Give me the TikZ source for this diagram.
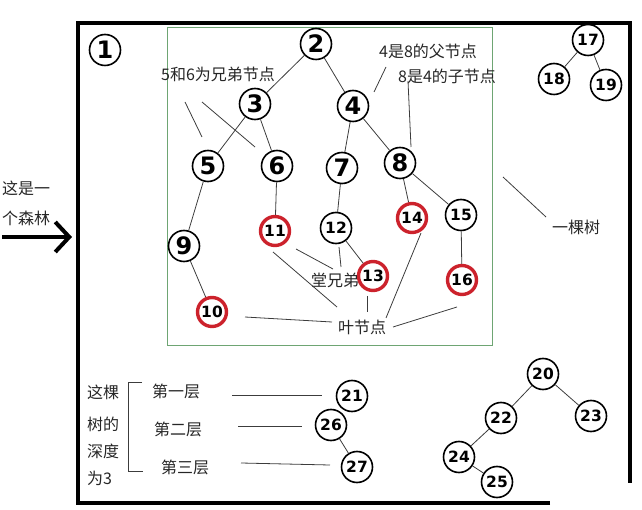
\documentclass[tikz,border=0pt]{standalone}
\usepackage{fontspec}
\setmainfont{Noto Sans CJK SC}
\newfontfamily\numfont{DejaVu Sans}
\usetikzlibrary{arrows.meta}
\definecolor{leafred}{RGB}{204,34,44}
\definecolor{boxgreen}{RGB}{110,165,115}
\definecolor{edgegray}{RGB}{60,60,60}
\begin{document}
\begin{tikzpicture}[x=1pt,y=-1pt,
 tn/.style={circle,draw=black,line width=1.6pt,minimum size=31pt,inner sep=0pt,fill=white},
 leaf/.style={tn,draw=leafred,line width=3.4pt,minimum size=29pt},
 big/.style={font=\numfont\bfseries\fontsize{24}{24}\selectfont},
 small/.style={font=\numfont\bfseries\fontsize{15.5}{15.5}\selectfont},
 edge/.style={draw=edgegray,line width=0.8pt},
 note/.style={draw=edgegray,line width=0.8pt},
 lbl/.style={font=\fontsize{16}{18}\selectfont,inner sep=0pt,text=black!85}
]
\useasboundingbox (0,0) rectangle (642,510);
% frames
\draw[line width=4pt] (550,503) -- (78,503) -- (78,23) -- (630,23) -- (630,483);
\draw[boxgreen,line width=0.8pt] (167,27) rectangle (492,345);
% forest arrow
\coordinate (arS) at (2,237);
\coordinate (arE) at (72,237);
\draw[line width=4pt,-{Straight Barb[length=14pt,width=30pt,line width=4pt]}] (arS) -- (arE);
\node[lbl,anchor=west] (t1) at (2,188) {这是一};
\node[lbl,anchor=west] (t2) at (2,218) {个森林};
% main tree nodes
\node[tn,big] (n1) at (105,50) {1};
\node[tn,big] (n2) at (316,44) {2};
\node[tn,big] (n3) at (255,104) {3};
\node[tn,big] (n4) at (353,106) {4};
\node[tn,big] (n5) at (208,166) {5};
\node[tn,big] (n6) at (277,166) {6};
\node[tn,big] (n7) at (342,168) {7};
\node[tn,big] (n8) at (400,163) {8};
\node[tn,big] (n9) at (184,246) {9};
\node[leaf,small] (n10) at (212,312) {10};
\node[leaf,small] (n11) at (275,231) {11};
\node[tn,small] (n12) at (336,228) {12};
\node[leaf,small] (n13) at (373,276) {13};
\node[leaf,small] (n14) at (412,218) {14};
\node[tn,small] (n15) at (461,215) {15};
\node[leaf,small] (n16) at (462,280) {16};
\node[tn,small] (n17) at (588,40) {17};
\node[tn,small] (n18) at (554,79) {18};
\node[tn,small] (n19) at (606,85) {19};
\node[tn,small] (n20) at (543,374) {20};
\node[tn,small] (n21) at (352,396) {21};
\node[tn,small] (n22) at (501,418) {22};
\node[tn,small] (n23) at (591,416) {23};
\node[tn,small] (n24) at (459,457) {24};
\node[tn,small] (n25) at (497,482) {25};
\node[tn,small] (n26) at (331,425) {26};
\node[tn,small] (n27) at (357,467) {27};
% edges
\draw[edge] (n2) -- (n3);
\draw[edge] (n2) -- (n4);
\draw[edge] (n3) -- (n5);
\draw[edge] (n3) -- (n6);
\draw[edge] (n4) -- (n7);
\draw[edge] (n4) -- (n8);
\draw[edge] (n5) -- (n9);
\draw[edge] (n9) -- (n10);
\draw[edge] (n6) -- (n11);
\draw[edge] (n7) -- (n12);
\draw[edge] (n12) -- (n13);
\draw[edge] (n8) -- (n14);
\draw[edge] (n8) -- (n15);
\draw[edge] (n15) -- (n16);
\draw[edge] (n17) -- (n18);
\draw[edge] (n17) -- (n19);
\draw[edge] (n20) -- (n22);
\draw[edge] (n20) -- (n23);
\draw[edge] (n22) -- (n24);
\draw[edge] (n24) -- (n25);
\draw[edge] (n26) -- (n27);
% labels
\node[lbl] (l56) at (218,74) {5和6为兄弟节点};
\node[lbl] (l48) at (428,51) {4是8的父节点};
\node[lbl] (l84) at (447,76) {8是4的子节点};
\node[lbl] (ltree) at (576,227) {一棵树};
\node[lbl] (lcous) at (335,280) {堂兄弟};
\node[lbl] (lleaf) at (362,327) {叶节点};
% annotation lines
\coordinate (a1) at (185,102); \coordinate (a2) at (202,137);
\coordinate (a3) at (202,102); \coordinate (a4) at (255,147);
\draw[note] (a1) -- (a2);
\draw[note] (a3) -- (a4);
\coordinate (b1) at (386,67); \coordinate (b2) at (374,92);
\coordinate (b3) at (408,81); \coordinate (b4) at (411,147);
\draw[note] (b1) -- (b2);
\draw[note] (b3) -- (b4);
\coordinate (c1) at (503,177); \coordinate (c2) at (546,217);
\draw[note] (c1) -- (c2);
\coordinate (d1) at (296,249); \coordinate (d2) at (333,269);
\coordinate (d3) at (339,247); \coordinate (d4) at (341,267);
\draw[note] (d1) -- (d2);
\draw[note] (d3) -- (d4);
\coordinate (e1) at (245,317); \coordinate (e2) at (332,322);
\coordinate (e3) at (273,252); \coordinate (e4) at (337,307);
\coordinate (e5) at (367,296); \coordinate (e6) at (367,312);
\coordinate (e7) at (421,233); \coordinate (e8) at (386,318);
\coordinate (e9) at (457,307); \coordinate (e10) at (393,327);
\draw[note] (e1) -- (e2);
\draw[note] (e3) -- (e4);
\draw[note] (e5) -- (e6);
\draw[note] (e7) -- (e8);
\draw[note] (e9) -- (e10);
% depth annotation
\node[lbl,anchor=west] (p1) at (87,392) {这棵};
\node[lbl,anchor=west] (p2) at (87,424) {树的};
\node[lbl,anchor=west] (p3) at (87,451) {深度};
\node[lbl,anchor=west] (p4) at (87,478) {为3};
\coordinate (k1) at (142,382); \coordinate (k2) at (128,382);
\coordinate (k3) at (128,471); \coordinate (k4) at (143,471);
\draw[note] (k1) -- (k2) -- (k3) -- (k4);
\node[lbl] (f1) at (176,391) {第一层};
\node[lbl] (f2) at (178,429) {第二层};
\node[lbl] (f3) at (185,467) {第三层};
\coordinate (g1) at (232,395); \coordinate (g2) at (322,395);
\coordinate (g3) at (238,426); \coordinate (g4) at (302,426);
\coordinate (g5) at (241,463); \coordinate (g6) at (330,465);
\draw[note] (g1) -- (g2);
\draw[note] (g3) -- (g4);
\draw[note] (g5) -- (g6);
\end{tikzpicture}
\end{document}
